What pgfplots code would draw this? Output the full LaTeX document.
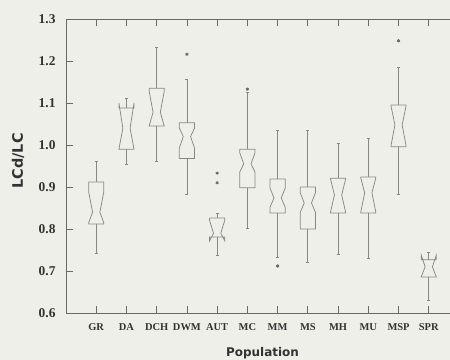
\documentclass[border=0pt]{standalone}
\usepackage{fontspec}
\setmainfont{Liberation Serif}
\newfontfamily\labfont{DejaVu Sans}
\usepackage{pgfplots}
\pgfplotsset{compat=1.18}
\definecolor{bgcol}{RGB}{239,239,234}
\definecolor{boxcol}{RGB}{135,135,135}
\definecolor{axcol}{RGB}{105,105,105}
\definecolor{txtcol}{RGB}{50,50,50}
% x, wlo, q1, nlo, med, nhi, q3, whi
\newcommand{\nbox}[8]{%
 \pgfmathsetmacro\xa{#1-0.25}\pgfmathsetmacro\xb{#1+0.25}%
 \pgfmathsetmacro\xc{#1-0.12}\pgfmathsetmacro\xd{#1+0.12}%
 \pgfmathsetmacro\xe{#1-0.05}\pgfmathsetmacro\xf{#1+0.05}%
 \addplot[boxc] coordinates {(\xa,#7) (\xb,#7) (\xb,#6) (\xd,#5) (\xb,#4) (\xb,#3) (\xa,#3) (\xa,#4) (\xc,#5) (\xa,#6) (\xa,#7)};
 \addplot[boxc] coordinates {(#1,#7) (#1,#8)};
 \addplot[boxc] coordinates {(#1,#3) (#1,#2)};
 \addplot[boxc] coordinates {(\xe,#8) (\xf,#8)};
 \addplot[boxc] coordinates {(\xe,#2) (\xf,#2)};
}
\newcommand{\tl}[1]{\textrm{\textbf{#1}}}
\begin{document}
\begin{tikzpicture}
\fill[bgcol] (-66bp,-47bp) rectangle (384bp,313bp);
\begin{axis}[
  at={(0,0)}, anchor=south west,
  scale only axis, width=393bp, height=294bp,
  xmin=0, xmax=13, ymin=0.6, ymax=1.3,
  xtick={1,2,3,4,5,6,7,8,9,10,11,12},
  xticklabels={\tl{GR},\tl{DA},\tl{DCH},\tl{DWM},\tl{AUT},\tl{MC},\tl{MM},\tl{MS},\tl{MH},\tl{MU},\tl{MSP},\tl{SPR}},
  ytick={0.6,0.7,0.8,0.9,1.0,1.1,1.2,1.3},
  yticklabels={\tl{0.6},\tl{0.7},\tl{0.8},\tl{0.9},\tl{1.0},\tl{1.1},\tl{1.2},\tl{1.3}},
  xtick pos=both, xticklabel pos=lower, ytick pos=left,
  tick align=inside, major tick length=7bp,
  tick style={axcol, line width=0.7pt},
  axis line style={axcol, line width=0.9pt},
  xticklabel style={font=\fontsize{10.5}{12}\selectfont, text=txtcol, yshift=-7bp},
  yticklabel style={font=\fontsize{13.5}{15}\selectfont, text=txtcol, xshift=-7bp},
  xlabel={Population}, ylabel={LCd/LC},
  xlabel style={font=\labfont\fontsize{12}{14}\selectfont\bfseries, text=txtcol, at={(axis description cs:0.5,0)}, anchor=center, yshift=-40bp},
  ylabel style={font=\labfont\fontsize{14.5}{16}\selectfont\bfseries, text=txtcol, at={(axis description cs:-0.122,0.517)}, anchor=center},
  boxc/.style={boxcol, line width=0.75pt, mark=none},
]
\nbox{1}{0.743}{0.812}{0.815}{0.840}{0.888}{0.912}{0.962}
\nbox{2}{0.955}{0.990}{0.990}{1.040}{1.100}{1.088}{1.112}
\nbox{3}{0.962}{1.045}{1.045}{1.078}{1.128}{1.135}{1.233}
\nbox{4}{0.883}{0.968}{0.993}{1.020}{1.040}{1.053}{1.157}
\nbox{5}{0.738}{0.781}{0.772}{0.790}{0.820}{0.826}{0.838}
\nbox{6}{0.802}{0.898}{0.936}{0.955}{0.981}{0.990}{1.125}
\nbox{7}{0.733}{0.838}{0.852}{0.874}{0.897}{0.919}{1.036}
\nbox{8}{0.721}{0.800}{0.840}{0.862}{0.886}{0.900}{1.034}
\nbox{9}{0.740}{0.838}{0.840}{0.881}{0.919}{0.921}{1.005}
\nbox{10}{0.729}{0.838}{0.840}{0.886}{0.922}{0.924}{1.016}
\nbox{11}{0.883}{0.996}{0.998}{1.048}{1.093}{1.095}{1.186}
\nbox{12}{0.629}{0.686}{0.686}{0.710}{0.738}{0.727}{0.745}
\addplot[only marks, mark=asterisk, mark size=1.6pt, color=axcol, line width=0.8pt]
  coordinates {(4,1.216) (5,0.933) (5,0.910) (6,1.133) (7,0.712) (11,1.248)};
\end{axis}
\pgfresetboundingbox
\path[use as bounding box] (-66bp,-47bp) rectangle (384bp,313bp);
\end{tikzpicture}
\end{document}
